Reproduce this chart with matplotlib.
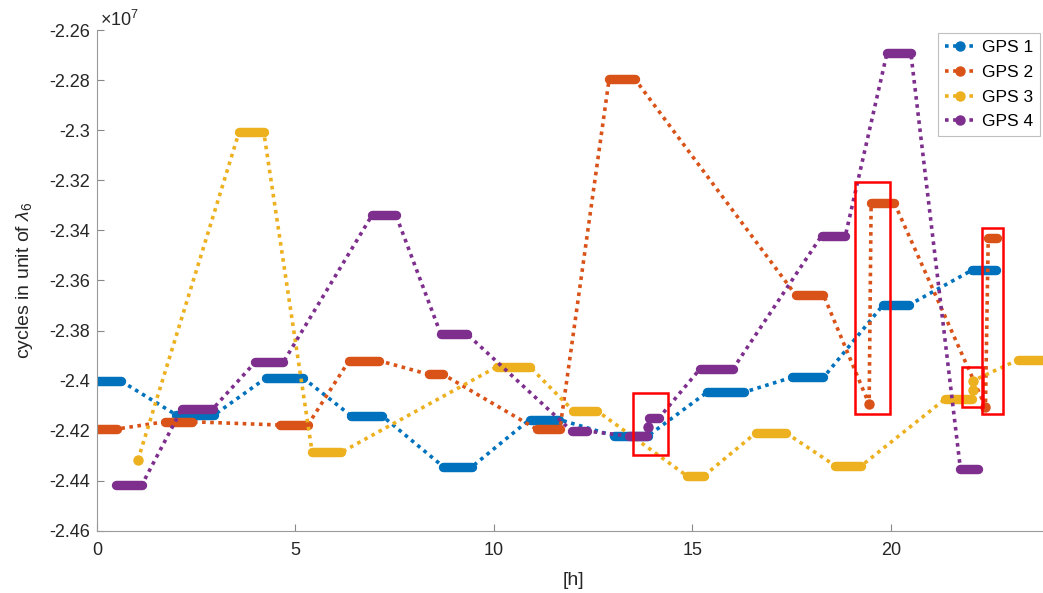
import numpy as np
import matplotlib.pyplot as plt
from matplotlib.lines import Line2D
from matplotlib.patches import Rectangle

plt.rcParams['font.family'] = ['Liberation Sans', 'DejaVu Sans']
plt.rcParams['axes.unicode_minus'] = False
plt.rcParams['mathtext.fontset'] = 'custom'
plt.rcParams['mathtext.rm'] = 'Liberation Sans'
plt.rcParams['mathtext.it'] = 'Liberation Sans:italic'

# plateaus: start [h], end [h], value [x 1e7 cycles]; start == end -> single epoch
gps1_start = [0.0, 2.0, 4.26, 6.4, 8.72, 10.9, 13.02, 15.37, 17.5, 19.8, 22.05]
gps1_end = [0.6, 2.95, 5.19, 7.18, 9.45, 11.64, 13.88, 16.3, 18.3, 20.45, 22.65]
gps1_val = [-2.4001, -2.4137, -2.3989, -2.4140, -2.4343, -2.4155, -2.4220,
            -2.4046, -2.3987, -2.3698, -2.3558]

gps2_start = [0.0, 1.71, 4.61, 6.35, 8.36, 11.08, 12.9, 17.6, 19.45, 19.5, 22.38, 22.45]
gps2_end = [0.5, 2.39, 5.31, 7.1, 8.72, 11.66, 13.55, 18.3, 19.45, 20.08, 22.38, 22.67]
gps2_val = [-2.4193, -2.4164, -2.4177, -2.3920, -2.3975, -2.4194, -2.2796,
            -2.3658, -2.4094, -2.3289, -2.4104, -2.3429]

gps3_start = [1.03, 3.58, 5.42, 10.08, 12.0, 14.86, 16.6, 18.6, 21.35, 22.06, 22.07, 23.2]
gps3_end = [1.03, 4.2, 6.15, 10.9, 12.6, 15.29, 17.35, 19.25, 22.05, 22.06, 22.07, 24.0]
gps3_val = [-2.4317, -2.3007, -2.4286, -2.3944, -2.4121, -2.4380, -2.4208,
            -2.4340, -2.4075, -2.4036, -2.4000, -2.3917]

gps4_start = [0.48, 2.14, 3.98, 6.93, 8.66, 11.96, 13.4, 13.88, 13.9, 15.19, 18.25, 19.9, 21.75]
gps4_end = [1.13, 2.92, 4.69, 7.53, 9.32, 12.34, 13.86, 13.88, 14.16, 16.02, 18.85, 20.5, 22.2]
gps4_val = [-2.4416, -2.4112, -2.3927, -2.3339, -2.3814, -2.4201, -2.4221,
            -2.4186, -2.4148, -2.3953, -2.3422, -2.2692, -2.4353]

labels = ['GPS 1', 'GPS 2', 'GPS 3', 'GPS 4']
colors = ['#0072BD', '#D95319', '#EDB120', '#7E2F8E']

# highlighted regions: x0, x1, y0, y1
box_x0 = [13.5, 19.09, 21.79, 22.29]
box_x1 = [14.38, 19.97, 22.32, 22.82]
box_y0 = [-2.4297, -2.4133, -2.4105, -2.4133]
box_y1 = [-2.4049, -2.3207, -2.3945, -2.3390]

yticks = [-2.46, -2.44, -2.42, -2.40, -2.38, -2.36, -2.34, -2.32, -2.30, -2.28, -2.26]
xticks = [0, 5, 10, 15, 20]

fig = plt.figure(figsize=(10.43, 5.93), dpi=100)
ax = fig.add_axes([0.093, 0.1046, 0.9135, 0.8448])

series = [(gps1_start, gps1_end, gps1_val), (gps2_start, gps2_end, gps2_val),
          (gps3_start, gps3_end, gps3_val), (gps4_start, gps4_end, gps4_val)]

dots = (0, (1, 1.25))
for (st, en, va), c in zip(series, colors):
    xs, ys = [], []
    for s, e, v in zip(st, en, va):
        xs += [s, e]
        ys += [v, v]
    ax.plot(xs, ys, color=c, lw=2.6, linestyle=dots)
    for s, e, v in zip(st, en, va):
        if e > s:
            ax.plot([s, e], [v, v], color=c, lw=6.8, solid_capstyle='round')
        else:
            ax.plot([s], [v], 'o', color=c, markersize=6.5)

for x0, x1, y0, y1 in zip(box_x0, box_x1, box_y0, box_y1):
    ax.add_patch(Rectangle((x0, y0), x1 - x0, y1 - y0, fill=False,
                           edgecolor='#ff0000', lw=1.8, zorder=5))

ax.set_xlim(0, 24)
ax.set_ylim(-2.46, -2.26)
ax.set_xticks(xticks)
ax.set_yticks(yticks)
ax.set_yticklabels(['%g' % v for v in yticks])
ax.tick_params(direction='in', length=5, width=0.8, color='#888888',
               labelsize=13, labelcolor='#262626', pad=5)
ax.tick_params(axis='x', pad=8)
for side in ['top', 'right']:
    ax.spines[side].set_visible(False)
for side in ['left', 'bottom']:
    ax.spines[side].set_color('#999999')
    ax.spines[side].set_linewidth(0.8)

ax.set_xlabel('[h]', fontsize=14, color='#262626', labelpad=9)
ax.set_ylabel(r'cycles in unit of $\lambda_6$', fontsize=14, color='#262626', labelpad=10)
ax.text(0.003, 1.0, r'$\times10^{7}$', transform=ax.transAxes, ha='left',
        va='bottom', fontsize=13, color='#262626')

handles = [Line2D([], [], color=c, lw=2.6, linestyle=dots, marker='o',
                  markersize=6.5) for c in colors]
leg = ax.legend(handles, labels, loc='upper right', bbox_to_anchor=(0.997, 0.944),
                bbox_transform=fig.transFigure, fontsize=12.5, frameon=True,
                fancybox=False, framealpha=1, edgecolor='#bfbfbf',
                handlelength=1.7, handletextpad=0.4, labelspacing=0.55,
                borderpad=0.4, borderaxespad=0)
leg.get_frame().set_linewidth(0.8)

fig.savefig('out.png', dpi=100)
